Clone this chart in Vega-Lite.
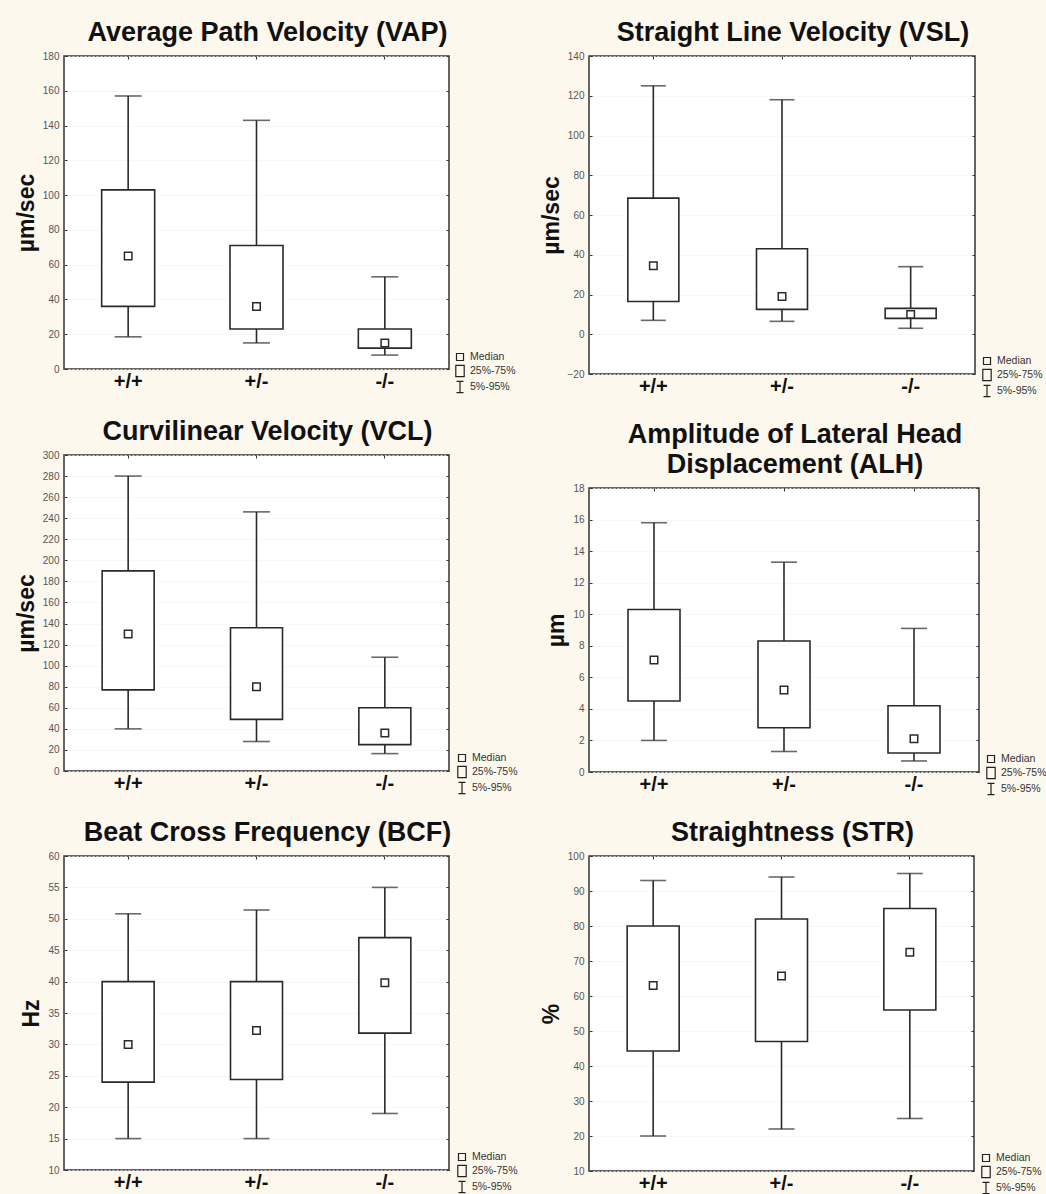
{
  "$schema": "https://vega.github.io/schema/vega-lite/v6.json",
  "background": "#fdf8ee",
  "padding": {"left": 14, "top": 18, "right": 0, "bottom": 0},
  "spacing": 20,
  "datasets": {
    "stats": [
      {"panel": "VAP", "group": "+/+", "p5": 18.5, "q1": 36, "median": 65, "q3": 103, "p95": 157},
      {"panel": "VAP", "group": "+/-", "p5": 15, "q1": 23, "median": 36, "q3": 71, "p95": 143},
      {"panel": "VAP", "group": "-/-", "p5": 8, "q1": 12, "median": 15, "q3": 23, "p95": 53},
      {"panel": "VSL", "group": "+/+", "p5": 7, "q1": 16.5, "median": 34.5, "q3": 68.5, "p95": 125},
      {"panel": "VSL", "group": "+/-", "p5": 6.5, "q1": 12.5, "median": 19, "q3": 43, "p95": 118},
      {"panel": "VSL", "group": "-/-", "p5": 3, "q1": 8, "median": 10, "q3": 13, "p95": 34},
      {"panel": "VCL", "group": "+/+", "p5": 40, "q1": 77, "median": 130, "q3": 190, "p95": 280},
      {"panel": "VCL", "group": "+/-", "p5": 28, "q1": 49, "median": 80, "q3": 136, "p95": 246},
      {"panel": "VCL", "group": "-/-", "p5": 16.5, "q1": 25, "median": 36, "q3": 60, "p95": 108},
      {"panel": "ALH", "group": "+/+", "p5": 2.0, "q1": 4.5, "median": 7.1, "q3": 10.3, "p95": 15.8},
      {"panel": "ALH", "group": "+/-", "p5": 1.3, "q1": 2.8, "median": 5.2, "q3": 8.3, "p95": 13.3},
      {"panel": "ALH", "group": "-/-", "p5": 0.7, "q1": 1.2, "median": 2.1, "q3": 4.2, "p95": 9.1},
      {"panel": "BCF", "group": "+/+", "p5": 15, "q1": 24, "median": 30, "q3": 40, "p95": 50.8},
      {"panel": "BCF", "group": "+/-", "p5": 15, "q1": 24.4, "median": 32.2, "q3": 40, "p95": 51.4},
      {"panel": "BCF", "group": "-/-", "p5": 19, "q1": 31.8, "median": 39.8, "q3": 47, "p95": 55},
      {"panel": "STR", "group": "+/+", "p5": 20, "q1": 44.3, "median": 63, "q3": 80, "p95": 93},
      {"panel": "STR", "group": "+/-", "p5": 22, "q1": 47, "median": 65.7, "q3": 82, "p95": 94},
      {"panel": "STR", "group": "-/-", "p5": 25, "q1": 56, "median": 72.5, "q3": 85, "p95": 95}
    ]
  },
  "hconcat": [
    {
      "spacing": 21,
      "resolve": {"scale": {"x": "independent", "y": "independent", "shape": "independent"}, "legend": {"shape": "independent"}},
      "vconcat": [
        {
          "width": 385, "height": 313,
          "title": {"text": "Average Path Velocity (VAP)"},
          "data": {"name": "stats"},
          "transform": [{"filter": "datum.panel == 'VAP'"}],
          "layer": [
            {"mark": {"type": "rule", "color": "#2a2a2a", "strokeWidth": 1.6},
             "encoding": {
               "x": {"field": "group", "type": "nominal", "sort": ["+/+", "+/-", "-/-"], "scale": {"paddingInner": 0, "paddingOuter": 0}, "axis": {"orient": "bottom", "title": null, "labelAngle": 0, "labelFontSize": 20, "labelFontWeight": "bold", "labelColor": "#111", "ticks": false, "domain": false, "labelPadding": 2}},
               "y": {"field": "p5", "type": "quantitative", "scale": {"domain": [0, 180], "nice": false, "zero": false}, "axis": {"orient": "left", "values": [0, 20, 40, 60, 80, 100, 120, 140, 160, 180], "title": "µm/sec"}},
               "y2": {"field": "p95"}
             }},
            {"mark": {"type": "tick", "color": "#2a2a2a", "size": 27, "thickness": 1.6},
             "encoding": {
               "x": {"field": "group", "type": "nominal", "sort": ["+/+", "+/-", "-/-"], "axis": {"orient": "top", "labels": false, "title": null, "domain": false, "grid": false, "tickSize": -3, "tickColor": "#333"}},
               "y": {"field": "p5", "type": "quantitative", "axis": {"orient": "right", "labels": false, "title": null, "domain": false, "grid": false, "tickSize": -3, "tickColor": "#333", "values": [0, 20, 40, 60, 80, 100, 120, 140, 160, 180]}}
             }},
            {"mark": {"type": "tick", "color": "#2a2a2a", "size": 27, "thickness": 1.6},
             "encoding": {
               "x": {"field": "group", "type": "nominal", "sort": ["+/+", "+/-", "-/-"], "axis": null},
               "y": {"field": "p95", "type": "quantitative", "axis": null}
             }},
            {"mark": {"type": "bar", "fill": "white", "stroke": "#2a2a2a", "strokeWidth": 1.6, "size": 53},
             "encoding": {
               "x": {"field": "group", "type": "nominal", "sort": ["+/+", "+/-", "-/-"], "axis": null},
               "y": {"field": "q1", "type": "quantitative", "axis": null},
               "y2": {"field": "q3"}
             }},
            {"mark": {"type": "point", "filled": false, "color": "#2a2a2a", "strokeWidth": 1.5, "size": 225, "opacity": 1},
             "encoding": {
               "x": {"field": "group", "type": "nominal", "sort": ["+/+", "+/-", "-/-"], "axis": null},
               "y": {"field": "median", "type": "quantitative", "axis": null},
               "shape": {"datum": "Median", "scale": {"domain": ["Median", "25%-75%", "5%-95%"], "range": ["M-0.5,-0.5H0.5V0.5H-0.5Z", "M-0.6,-0.8H0.6V0.8H-0.6Z", "M-0.5,-0.8H0.5M0,-0.8V0.8M-0.5,0.8H0.5"]}, "legend": {"orient": "none", "legendX": 388, "legendY": 293}}
             }}
          ],
          "resolve": {"axis": {"x": "independent", "y": "independent"}}
        },
        {
          "width": 385, "height": 316,
          "title": {"text": "Curvilinear Velocity (VCL)"},
          "data": {"name": "stats"},
          "transform": [{"filter": "datum.panel == 'VCL'"}],
          "layer": [
            {"mark": {"type": "rule", "color": "#2a2a2a", "strokeWidth": 1.6},
             "encoding": {
               "x": {"field": "group", "type": "nominal", "sort": ["+/+", "+/-", "-/-"], "scale": {"paddingInner": 0, "paddingOuter": 0}, "axis": {"orient": "bottom", "title": null, "labelAngle": 0, "labelFontSize": 20, "labelFontWeight": "bold", "labelColor": "#111", "ticks": false, "domain": false, "labelPadding": 2}},
               "y": {"field": "p5", "type": "quantitative", "scale": {"domain": [0, 300], "nice": false, "zero": false}, "axis": {"orient": "left", "values": [0, 20, 40, 60, 80, 100, 120, 140, 160, 180, 200, 220, 240, 260, 280, 300], "title": "µm/sec"}},
               "y2": {"field": "p95"}
             }},
            {"mark": {"type": "tick", "color": "#2a2a2a", "size": 27, "thickness": 1.6},
             "encoding": {
               "x": {"field": "group", "type": "nominal", "sort": ["+/+", "+/-", "-/-"], "axis": {"orient": "top", "labels": false, "title": null, "domain": false, "grid": false, "tickSize": -3, "tickColor": "#333"}},
               "y": {"field": "p5", "type": "quantitative", "axis": {"orient": "right", "labels": false, "title": null, "domain": false, "grid": false, "tickSize": -3, "tickColor": "#333", "values": [0, 20, 40, 60, 80, 100, 120, 140, 160, 180, 200, 220, 240, 260, 280, 300]}}
             }},
            {"mark": {"type": "tick", "color": "#2a2a2a", "size": 27, "thickness": 1.6},
             "encoding": {
               "x": {"field": "group", "type": "nominal", "sort": ["+/+", "+/-", "-/-"], "axis": null},
               "y": {"field": "p95", "type": "quantitative", "axis": null}
             }},
            {"mark": {"type": "bar", "fill": "white", "stroke": "#2a2a2a", "strokeWidth": 1.6, "size": 52},
             "encoding": {
               "x": {"field": "group", "type": "nominal", "sort": ["+/+", "+/-", "-/-"], "axis": null},
               "y": {"field": "q1", "type": "quantitative", "axis": null},
               "y2": {"field": "q3"}
             }},
            {"mark": {"type": "point", "filled": false, "color": "#2a2a2a", "strokeWidth": 1.5, "size": 225, "opacity": 1},
             "encoding": {
               "x": {"field": "group", "type": "nominal", "sort": ["+/+", "+/-", "-/-"], "axis": null},
               "y": {"field": "median", "type": "quantitative", "axis": null},
               "shape": {"datum": "Median", "scale": {"domain": ["Median", "25%-75%", "5%-95%"], "range": ["M-0.5,-0.5H0.5V0.5H-0.5Z", "M-0.6,-0.8H0.6V0.8H-0.6Z", "M-0.5,-0.8H0.5M0,-0.8V0.8M-0.5,0.8H0.5"]}, "legend": {"orient": "none", "legendX": 390, "legendY": 295}}
             }}
          ],
          "resolve": {"axis": {"x": "independent", "y": "independent"}}
        },
        {
          "width": 385, "height": 314,
          "title": {"text": "Beat Cross Frequency (BCF)"},
          "data": {"name": "stats"},
          "transform": [{"filter": "datum.panel == 'BCF'"}],
          "layer": [
            {"mark": {"type": "rule", "color": "#2a2a2a", "strokeWidth": 1.6},
             "encoding": {
               "x": {"field": "group", "type": "nominal", "sort": ["+/+", "+/-", "-/-"], "scale": {"paddingInner": 0, "paddingOuter": 0}, "axis": {"orient": "bottom", "title": null, "labelAngle": 0, "labelFontSize": 20, "labelFontWeight": "bold", "labelColor": "#111", "ticks": false, "domain": false, "labelPadding": 2}},
               "y": {"field": "p5", "type": "quantitative", "scale": {"domain": [10, 60], "nice": false, "zero": false}, "axis": {"orient": "left", "values": [10, 15, 20, 25, 30, 35, 40, 45, 50, 55, 60], "title": "Hz"}},
               "y2": {"field": "p95"}
             }},
            {"mark": {"type": "tick", "color": "#2a2a2a", "size": 26, "thickness": 1.6},
             "encoding": {
               "x": {"field": "group", "type": "nominal", "sort": ["+/+", "+/-", "-/-"], "axis": {"orient": "top", "labels": false, "title": null, "domain": false, "grid": false, "tickSize": -3, "tickColor": "#333"}},
               "y": {"field": "p5", "type": "quantitative", "axis": {"orient": "right", "labels": false, "title": null, "domain": false, "grid": false, "tickSize": -3, "tickColor": "#333", "values": [10, 15, 20, 25, 30, 35, 40, 45, 50, 55, 60]}}
             }},
            {"mark": {"type": "tick", "color": "#2a2a2a", "size": 26, "thickness": 1.6},
             "encoding": {
               "x": {"field": "group", "type": "nominal", "sort": ["+/+", "+/-", "-/-"], "axis": null},
               "y": {"field": "p95", "type": "quantitative", "axis": null}
             }},
            {"mark": {"type": "bar", "fill": "white", "stroke": "#2a2a2a", "strokeWidth": 1.6, "size": 52},
             "encoding": {
               "x": {"field": "group", "type": "nominal", "sort": ["+/+", "+/-", "-/-"], "axis": null},
               "y": {"field": "q1", "type": "quantitative", "axis": null},
               "y2": {"field": "q3"}
             }},
            {"mark": {"type": "point", "filled": false, "color": "#2a2a2a", "strokeWidth": 1.5, "size": 225, "opacity": 1},
             "encoding": {
               "x": {"field": "group", "type": "nominal", "sort": ["+/+", "+/-", "-/-"], "axis": null},
               "y": {"field": "median", "type": "quantitative", "axis": null},
               "shape": {"datum": "Median", "scale": {"domain": ["Median", "25%-75%", "5%-95%"], "range": ["M-0.5,-0.5H0.5V0.5H-0.5Z", "M-0.6,-0.8H0.6V0.8H-0.6Z", "M-0.5,-0.8H0.5M0,-0.8V0.8M-0.5,0.8H0.5"]}, "legend": {"orient": "none", "legendX": 390, "legendY": 293}}
             }}
          ],
          "resolve": {"axis": {"x": "independent", "y": "independent"}}
        }
      ]
    },
    {
      "spacing": 20,
      "resolve": {"scale": {"x": "independent", "y": "independent", "shape": "independent"}, "legend": {"shape": "independent"}},
      "vconcat": [
        {
          "width": 386, "height": 318,
          "title": {"text": "Straight Line Velocity (VSL)"},
          "data": {"name": "stats"},
          "transform": [{"filter": "datum.panel == 'VSL'"}],
          "layer": [
            {"mark": {"type": "rule", "color": "#2a2a2a", "strokeWidth": 1.6},
             "encoding": {
               "x": {"field": "group", "type": "nominal", "sort": ["+/+", "+/-", "-/-"], "scale": {"paddingInner": 0, "paddingOuter": 0}, "axis": {"orient": "bottom", "title": null, "labelAngle": 0, "labelFontSize": 20, "labelFontWeight": "bold", "labelColor": "#111", "ticks": false, "domain": false, "labelPadding": 2}},
               "y": {"field": "p5", "type": "quantitative", "scale": {"domain": [-20, 140], "nice": false, "zero": false}, "axis": {"orient": "left", "values": [-20, 0, 20, 40, 60, 80, 100, 120, 140], "title": "µm/sec"}},
               "y2": {"field": "p95"}
             }},
            {"mark": {"type": "tick", "color": "#2a2a2a", "size": 25, "thickness": 1.6},
             "encoding": {
               "x": {"field": "group", "type": "nominal", "sort": ["+/+", "+/-", "-/-"], "axis": {"orient": "top", "labels": false, "title": null, "domain": false, "grid": false, "tickSize": -3, "tickColor": "#333"}},
               "y": {"field": "p5", "type": "quantitative", "axis": {"orient": "right", "labels": false, "title": null, "domain": false, "grid": false, "tickSize": -3, "tickColor": "#333", "values": [-20, 0, 20, 40, 60, 80, 100, 120, 140]}}
             }},
            {"mark": {"type": "tick", "color": "#2a2a2a", "size": 25, "thickness": 1.6},
             "encoding": {
               "x": {"field": "group", "type": "nominal", "sort": ["+/+", "+/-", "-/-"], "axis": null},
               "y": {"field": "p95", "type": "quantitative", "axis": null}
             }},
            {"mark": {"type": "bar", "fill": "white", "stroke": "#2a2a2a", "strokeWidth": 1.6, "size": 51},
             "encoding": {
               "x": {"field": "group", "type": "nominal", "sort": ["+/+", "+/-", "-/-"], "axis": null},
               "y": {"field": "q1", "type": "quantitative", "axis": null},
               "y2": {"field": "q3"}
             }},
            {"mark": {"type": "point", "filled": false, "color": "#2a2a2a", "strokeWidth": 1.5, "size": 225, "opacity": 1},
             "encoding": {
               "x": {"field": "group", "type": "nominal", "sort": ["+/+", "+/-", "-/-"], "axis": null},
               "y": {"field": "median", "type": "quantitative", "axis": null},
               "shape": {"datum": "Median", "scale": {"domain": ["Median", "25%-75%", "5%-95%"], "range": ["M-0.5,-0.5H0.5V0.5H-0.5Z", "M-0.6,-0.8H0.6V0.8H-0.6Z", "M-0.5,-0.8H0.5M0,-0.8V0.8M-0.5,0.8H0.5"]}, "legend": {"orient": "none", "legendX": 390, "legendY": 297}}
             }}
          ],
          "resolve": {"axis": {"x": "independent", "y": "independent"}}
        },
        {
          "width": 390, "height": 284,
          "title": {"text": "Amplitude of Lateral Head", "subtitle": "Displacement (ALH)", "subtitleFont": "Liberation Sans", "subtitleFontSize": 27, "subtitleFontWeight": "bold", "subtitleColor": "#111", "subtitlePadding": 3},
          "data": {"name": "stats"},
          "transform": [{"filter": "datum.panel == 'ALH'"}],
          "layer": [
            {"mark": {"type": "rule", "color": "#2a2a2a", "strokeWidth": 1.6},
             "encoding": {
               "x": {"field": "group", "type": "nominal", "sort": ["+/+", "+/-", "-/-"], "scale": {"paddingInner": 0, "paddingOuter": 0}, "axis": {"orient": "bottom", "title": null, "labelAngle": 0, "labelFontSize": 20, "labelFontWeight": "bold", "labelColor": "#111", "ticks": false, "domain": false, "labelPadding": 2}},
               "y": {"field": "p5", "type": "quantitative", "scale": {"domain": [0, 18], "nice": false, "zero": false}, "axis": {"orient": "left", "values": [0, 2, 4, 6, 8, 10, 12, 14, 16, 18], "title": "µm"}},
               "y2": {"field": "p95"}
             }},
            {"mark": {"type": "tick", "color": "#2a2a2a", "size": 26, "thickness": 1.6},
             "encoding": {
               "x": {"field": "group", "type": "nominal", "sort": ["+/+", "+/-", "-/-"], "axis": {"orient": "top", "labels": false, "title": null, "domain": false, "grid": false, "tickSize": -3, "tickColor": "#333"}},
               "y": {"field": "p5", "type": "quantitative", "axis": {"orient": "right", "labels": false, "title": null, "domain": false, "grid": false, "tickSize": -3, "tickColor": "#333", "values": [0, 2, 4, 6, 8, 10, 12, 14, 16, 18]}}
             }},
            {"mark": {"type": "tick", "color": "#2a2a2a", "size": 26, "thickness": 1.6},
             "encoding": {
               "x": {"field": "group", "type": "nominal", "sort": ["+/+", "+/-", "-/-"], "axis": null},
               "y": {"field": "p95", "type": "quantitative", "axis": null}
             }},
            {"mark": {"type": "bar", "fill": "white", "stroke": "#2a2a2a", "strokeWidth": 1.6, "size": 52},
             "encoding": {
               "x": {"field": "group", "type": "nominal", "sort": ["+/+", "+/-", "-/-"], "axis": null},
               "y": {"field": "q1", "type": "quantitative", "axis": null},
               "y2": {"field": "q3"}
             }},
            {"mark": {"type": "point", "filled": false, "color": "#2a2a2a", "strokeWidth": 1.5, "size": 225, "opacity": 1},
             "encoding": {
               "x": {"field": "group", "type": "nominal", "sort": ["+/+", "+/-", "-/-"], "axis": null},
               "y": {"field": "median", "type": "quantitative", "axis": null},
               "shape": {"datum": "Median", "scale": {"domain": ["Median", "25%-75%", "5%-95%"], "range": ["M-0.5,-0.5H0.5V0.5H-0.5Z", "M-0.6,-0.8H0.6V0.8H-0.6Z", "M-0.5,-0.8H0.5M0,-0.8V0.8M-0.5,0.8H0.5"]}, "legend": {"orient": "none", "legendX": 394, "legendY": 263}}
             }}
          ],
          "resolve": {"axis": {"x": "independent", "y": "independent"}}
        },
        {
          "width": 385, "height": 315,
          "title": {"text": "Straightness (STR)"},
          "data": {"name": "stats"},
          "transform": [{"filter": "datum.panel == 'STR'"}],
          "layer": [
            {"mark": {"type": "rule", "color": "#2a2a2a", "strokeWidth": 1.6},
             "encoding": {
               "x": {"field": "group", "type": "nominal", "sort": ["+/+", "+/-", "-/-"], "scale": {"paddingInner": 0, "paddingOuter": 0}, "axis": {"orient": "bottom", "title": null, "labelAngle": 0, "labelFontSize": 20, "labelFontWeight": "bold", "labelColor": "#111", "ticks": false, "domain": false, "labelPadding": 2}},
               "y": {"field": "p5", "type": "quantitative", "scale": {"domain": [10, 100], "nice": false, "zero": false}, "axis": {"orient": "left", "values": [10, 20, 30, 40, 50, 60, 70, 80, 90, 100], "title": "%"}},
               "y2": {"field": "p95"}
             }},
            {"mark": {"type": "tick", "color": "#2a2a2a", "size": 26, "thickness": 1.6},
             "encoding": {
               "x": {"field": "group", "type": "nominal", "sort": ["+/+", "+/-", "-/-"], "axis": {"orient": "top", "labels": false, "title": null, "domain": false, "grid": false, "tickSize": -3, "tickColor": "#333"}},
               "y": {"field": "p5", "type": "quantitative", "axis": {"orient": "right", "labels": false, "title": null, "domain": false, "grid": false, "tickSize": -3, "tickColor": "#333", "values": [10, 20, 30, 40, 50, 60, 70, 80, 90, 100]}}
             }},
            {"mark": {"type": "tick", "color": "#2a2a2a", "size": 26, "thickness": 1.6},
             "encoding": {
               "x": {"field": "group", "type": "nominal", "sort": ["+/+", "+/-", "-/-"], "axis": null},
               "y": {"field": "p95", "type": "quantitative", "axis": null}
             }},
            {"mark": {"type": "bar", "fill": "white", "stroke": "#2a2a2a", "strokeWidth": 1.6, "size": 52},
             "encoding": {
               "x": {"field": "group", "type": "nominal", "sort": ["+/+", "+/-", "-/-"], "axis": null},
               "y": {"field": "q1", "type": "quantitative", "axis": null},
               "y2": {"field": "q3"}
             }},
            {"mark": {"type": "point", "filled": false, "color": "#2a2a2a", "strokeWidth": 1.5, "size": 225, "opacity": 1},
             "encoding": {
               "x": {"field": "group", "type": "nominal", "sort": ["+/+", "+/-", "-/-"], "axis": null},
               "y": {"field": "median", "type": "quantitative", "axis": null},
               "shape": {"datum": "Median", "scale": {"domain": ["Median", "25%-75%", "5%-95%"], "range": ["M-0.5,-0.5H0.5V0.5H-0.5Z", "M-0.6,-0.8H0.6V0.8H-0.6Z", "M-0.5,-0.8H0.5M0,-0.8V0.8M-0.5,0.8H0.5"]}, "legend": {"orient": "none", "legendX": 389, "legendY": 294}}
             }}
          ],
          "resolve": {"axis": {"x": "independent", "y": "independent"}}
        }
      ]
    }
  ],
  "resolve": {
    "scale": {"x": "independent", "y": "independent", "shape": "independent"},
    "legend": {"shape": "independent"}
  },
  "config": {
    "font": "Liberation Sans",
    "view": {"fill": "white", "stroke": "#333", "strokeWidth": 1.5},
    "title": {"font": "Liberation Sans", "fontSize": 27, "fontWeight": "bold", "color": "#111", "offset": 4, "dx": 11, "anchor": "middle"},
    "axisLeft": {"labelFont": "Liberation Sans", "labelFontSize": 10, "labelColor": "#555", "tickSize": -3, "tickColor": "#333", "labelPadding": 8, "domain": false, "grid": true, "gridColor": "#ececec", "gridDash": [2, 2], "gridWidth": 0.8, "titleFont": "Liberation Sans", "titleFontSize": 23, "titleFontWeight": "bold", "titleColor": "#111", "titlePadding": 4},
    "legend": {"title": null, "labelFont": "Liberation Sans", "labelFontSize": 10.5, "labelColor": "#333", "labelOffset": 2, "rowPadding": 0, "symbolSize": 196, "symbolStrokeWidth": 1.2, "symbolStrokeColor": "#222", "padding": 0}
  }
}
